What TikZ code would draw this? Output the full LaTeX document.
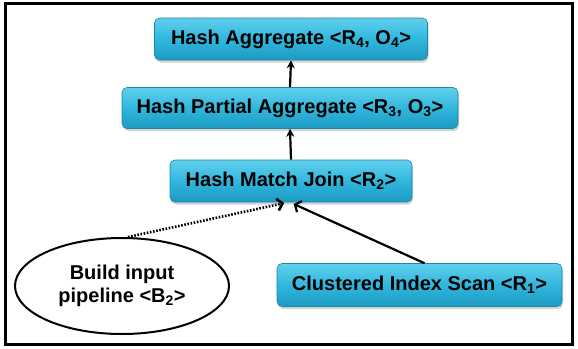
\documentclass[tikz,border=0pt]{standalone}
\usepackage{fontspec}
\setmainfont{Liberation Sans}
\usetikzlibrary{shapes.geometric,shadows,arrows.meta}
\definecolor{boxtop}{HTML}{62CFEC}
\definecolor{boxmid}{HTML}{30B7DE}
\definecolor{boxbot}{HTML}{1C9AC2}
\definecolor{boxedge}{HTML}{1E86A8}
\tikzset{
  opbox/.style={draw=boxedge, line width=0.6pt, rounded corners=5pt,
    top color=boxtop, bottom color=boxbot, middle color=boxmid,
    drop shadow={opacity=0.35, shadow xshift=1pt, shadow yshift=-2.5pt},
    inner sep=0pt, font=\fontsize{20}{22}\selectfont\bfseries, text=black},
  ellnode/.style={draw=black, line width=2pt, ellipse, inner sep=0pt,
    fill=white, align=center, font=\fontsize{20}{23}\selectfont\bfseries},
  flow/.style={draw=black, line width=2.2pt, -{Stealth[length=8pt,width=8pt]}},
  barb/.style={line width=2.2pt, -{Straight Barb[length=5pt,width=12pt]}},
  dotline/.style={line width=2.6pt, dash pattern=on 1.6pt off 1.6pt}
}
\begin{document}
\begin{tikzpicture}[x=1pt,y=-1pt]
\useasboundingbox (0,0) rectangle (578,348);
\draw[line width=3pt] (5.5,3.5) rectangle (572.5,344.5);
\node[opbox, minimum width=273pt, minimum height=42pt] (agg) at (291,39) {Hash Aggregate <R\textsubscript{4}, O\textsubscript{4}>};
\node[opbox, minimum width=336pt, minimum height=41pt] (part) at (290,108) {Hash Partial Aggregate <R\textsubscript{3}, O\textsubscript{3}>};
\node[opbox, minimum width=242pt, minimum height=42pt] (join) at (291,181) {Hash Match Join <R\textsubscript{2}>};
\node[opbox, minimum width=285pt, minimum height=43pt] (scan) at (419.5,285) {Clustered Index Scan <R\textsubscript{1}>};
\node[ellnode, minimum width=214pt, minimum height=96pt] (ell) at (122,286) {Build input\\pipeline <B\textsubscript{2}>};
\draw[flow] (part.north) -- (agg.south);
\draw[flow] (join.north) -- (part.south);
\draw[barb, shorten >=4pt] ([xshift=5pt]scan.north) -- ([xshift=-1pt]join.south);
\draw[barb, dotline, shorten >=4pt] ([xshift=6pt]ell.north) -- ([xshift=-3pt]join.south);
\end{tikzpicture}
\end{document}
